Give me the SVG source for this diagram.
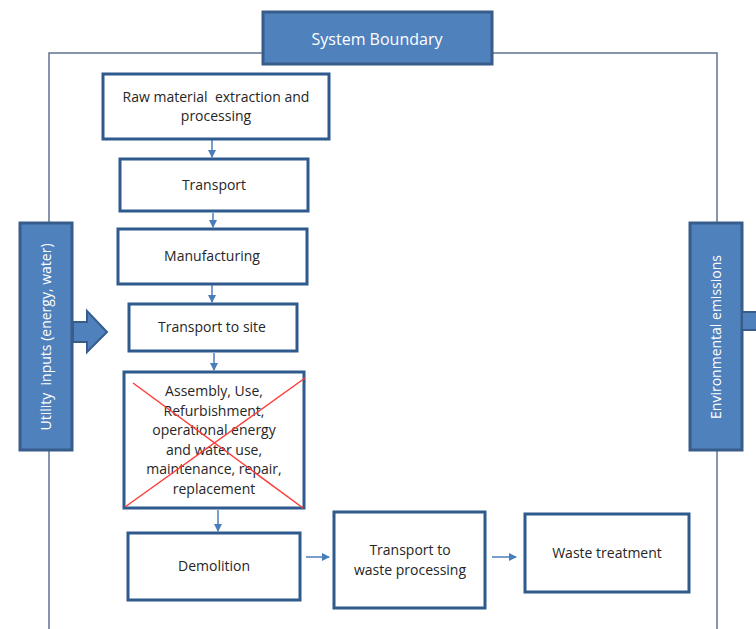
<svg xmlns="http://www.w3.org/2000/svg" width="756" height="629" viewBox="0 0 756 629">
<defs>
<marker id="ah" markerWidth="8" markerHeight="8" refX="7" refY="4" orient="auto" markerUnits="userSpaceOnUse">
<path d="M0,0 L8,4 L0,8 Z" fill="#4A7EBB"/>
</marker>
<style>
.box{fill:#fff;stroke:#2E5A8E;stroke-width:3}
.blue{fill:#4F81BD;stroke:#385D8A;stroke-width:3}
.t{font-family:"Open Sans","Liberation Sans",Arial,sans-serif;font-size:14px;fill:#262626;text-anchor:middle;white-space:pre}
.w{font-family:"Open Sans","Liberation Sans",Arial,sans-serif;fill:#fff;text-anchor:middle;white-space:pre}
.c{stroke:#4A7EBB;stroke-width:1.5;fill:none;marker-end:url(#ah)}
.bd{stroke:#5F7391;stroke-width:1.5;fill:none}
</style>
</defs>
<rect width="756" height="629" fill="#fff"/>
<g id="boundary">
<polyline class="bd" points="49,629 49,53 717,53 717,629"/>
</g>
<g id="system-boundary">
<rect class="blue" x="263" y="12" width="229" height="52"/>
<text class="w" x="377" y="45" font-size="16">System Boundary</text>
</g>
<g id="connectors">
<line class="c" x1="212" y1="140" x2="212" y2="157"/>
<line class="c" x1="213" y1="213" x2="213" y2="227"/>
<line class="c" x1="212" y1="285" x2="212" y2="302"/>
<line class="c" x1="214" y1="353" x2="214" y2="370"/>
<line class="c" x1="218" y1="510" x2="218" y2="531"/>
<line class="c" x1="306" y1="557" x2="329" y2="557"/>
<line class="c" x1="492" y1="557" x2="516" y2="557"/>
</g>
<g id="raw-material">
<rect class="box" x="103" y="74" width="226" height="65"/>
<text class="t" x="216" y="102" xml:space="preserve">Raw material  extraction and</text>
<text class="t" x="216" y="121">processing</text>
</g>
<g id="transport">
<rect class="box" x="120" y="159" width="188" height="52"/>
<text class="t" x="214" y="190">Transport</text>
</g>
<g id="manufacturing">
<rect class="box" x="118" y="229" width="189" height="55"/>
<text class="t" x="212" y="261">Manufacturing</text>
</g>
<g id="transport-to-site">
<rect class="box" x="129" y="304" width="168" height="47"/>
<text class="t" x="212" y="332">Transport to site</text>
</g>
<g id="assembly">
<rect class="box" x="124" y="372" width="180" height="136"/>
<text class="t" x="214" y="396">Assembly, Use,</text>
<text class="t" x="214" y="416">Refurbishment,</text>
<text class="t" x="214" y="435">operational energy</text>
<text class="t" x="214" y="455">and water use,</text>
<text class="t" x="214" y="474">maintenance, repair,</text>
<text class="t" x="214" y="494">replacement</text>
<line x1="133" y1="383" x2="303" y2="508" stroke="#FF3B3B" stroke-width="1.5"/>
<line x1="125" y1="507" x2="305" y2="378" stroke="#FF3B3B" stroke-width="1.5"/>
</g>
<g id="demolition">
<rect class="box" x="128" y="533" width="172" height="67"/>
<text class="t" x="214" y="571">Demolition</text>
</g>
<g id="transport-waste">
<rect class="box" x="334" y="512" width="151" height="96"/>
<text class="t" x="410" y="555">Transport to</text>
<text class="t" x="410" y="575">waste processing</text>
</g>
<g id="waste-treatment">
<rect class="box" x="525" y="514" width="164" height="78"/>
<text class="t" x="607" y="558">Waste treatment</text>
</g>
<g id="utility-inputs">
<rect class="blue" x="20" y="223" width="52" height="227"/>
<text class="w" font-size="14" transform="translate(51,337) rotate(-90)" xml:space="preserve">Utility  inputs (energy, water)</text>
<path d="M73,322 L87,322 L87,311 L107,332 L87,352 L87,342 L73,342 Z" fill="#4F81BD" stroke="#385D8A" stroke-width="2"/>
</g>
<g id="environmental-emissions">
<rect class="blue" x="690" y="223" width="52" height="227"/>
<text class="w" font-size="14" transform="translate(721,337) rotate(-90)">Environmental emissions</text>
<path d="M743,312 L758,312 L758,330 L743,330" fill="#4F81BD" stroke="#385D8A" stroke-width="2"/>
</g>
</svg>
